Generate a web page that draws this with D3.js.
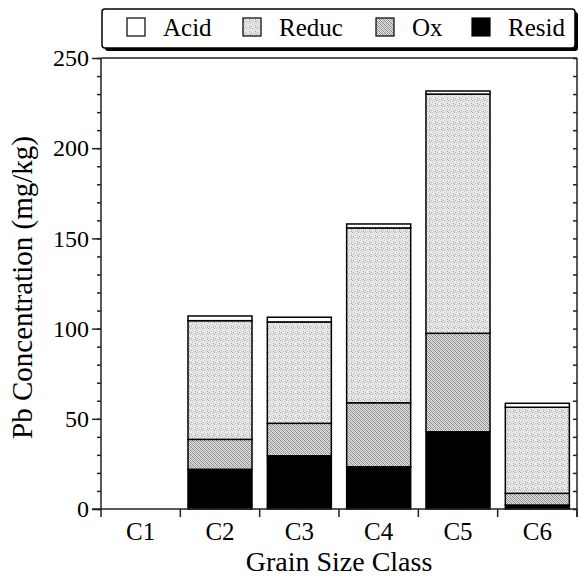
<!DOCTYPE html>
<html><head><meta charset="utf-8">
<script src="https://cdn.jsdelivr.net/npm/d3@7"></script>
<style>body{margin:0;background:#fff}svg{display:block}</style>
</head><body>
<svg id="c" width="582" height="577"></svg>
<script>
const categories = ["C1","C2","C3","C4","C5","C6"];
const seriesNames = ["Resid","Ox","Reduc","Acid"];
const resid = [0, 22.0, 29.5, 23.4, 42.8, 2.2];
const ox    = [0, 16.6, 18.0, 35.5, 54.6, 6.5];
const reduc = [0, 65.8, 56.2, 96.9, 132.6, 47.7];
const acid  = [0, 2.6, 2.6, 2.2, 1.7, 2.2];
const yTicks = [0, 50, 100, 150, 200, 250];
const legendOrder = ["Acid","Reduc","Ox","Resid"];

const svg = d3.select("#c");
const L = 101, R = 577, T = 58, B = 509;
const FONT = '"Liberation Serif"';

// patterns
const defs = svg.append("defs");
const pr = defs.append("pattern").attr("id","pReduc").attr("patternUnits","userSpaceOnUse").attr("width",6).attr("height",6);
pr.append("rect").attr("width",6).attr("height",6).attr("fill","#e9e9e9");
[[0,0],[3,1],[1,3],[4,4],[2,5],[5,2],[0,4],[3,3]].forEach(([a,b],i)=>pr.append("rect").attr("x",a).attr("y",b).attr("width",1).attr("height",1).attr("fill", i%2?"#a0a0a0":"#c4c4c4"));
const po = defs.append("pattern").attr("id","pOx").attr("patternUnits","userSpaceOnUse").attr("width",4).attr("height",4);
po.append("rect").attr("width",4).attr("height",4).attr("fill","#e2e2e2");
[[0,0],[1,1],[2,2],[3,3],[2,0],[3,1],[0,2],[1,3]].forEach(([a,b],i)=>po.append("rect").attr("x",a).attr("y",b).attr("width",1).attr("height",1).attr("fill", i<4?"#858585":"#b0b0b0"));

const fills = {Resid:"#000", Ox:"url(#pOx)", Reduc:"url(#pReduc)", Acid:"#fff"};

const x = d3.scaleBand().domain(categories).range([L,R]).paddingInner(0.193).paddingOuter(0.0965);
const y = d3.scaleLinear().domain([0,250]).range([B,T]);

const rows = categories.map((c,i)=>({cat:c, Resid:resid[i], Ox:ox[i], Reduc:reduc[i], Acid:acid[i]}));
const stack = d3.stack().keys(seriesNames)(rows);

// bars
const g = svg.append("g");
stack.forEach(s=>{
  g.selectAll(null).data(s.filter(d=>d[1]-d[0]>0)).enter().append("rect")
    .attr("x", d=>x(d.data.cat)).attr("width", x.bandwidth())
    .attr("y", d=>y(d[1])).attr("height", d=>y(d[0])-y(d[1]))
    .attr("fill", fills[s.key]).attr("stroke","#000").attr("stroke-width",1.5);
});

// frame top
svg.append("line").attr("x1",L).attr("x2",R).attr("y1",T).attr("y2",T).attr("stroke","#222").attr("stroke-width",1.5);

// left axis
const minor = d3.range(0,251,10);
const ly = svg.append("g").attr("transform",`translate(${L},0)`);
ly.call(d3.axisLeft(y).tickValues(minor).tickSize(4).tickFormat(""));
ly.call(g2=>g2.selectAll(".domain").remove());
const lyM = svg.append("g").attr("transform",`translate(${L},0)`)
  .call(d3.axisLeft(y).tickValues(yTicks).tickSize(9).tickPadding(3).tickFormat(d3.format("d")));
lyM.selectAll("text").style("font-family",FONT).style("font-size","24px").attr("fill","#000");
[ly,lyM].forEach(a=>{a.selectAll("line").attr("stroke","#222").attr("stroke-width",1.5);a.selectAll(".domain").attr("stroke","#222").attr("stroke-width",1.5);});
lyM.select(".domain").attr("d",`M0,${B}V${T}`);

// right axis (inner ticks)
const ry = svg.append("g").attr("transform",`translate(${R},0)`)
  .call(d3.axisLeft(y).tickValues(minor).tickSize(4).tickFormat(""));
ry.selectAll("line").attr("stroke","#222").attr("stroke-width",1.5).attr("x2",-4);
ry.select(".domain").attr("d",`M0,${B+8}V${T}`).attr("stroke","#222").attr("stroke-width",1.5);

// bottom axis
const bounds = categories.map(c=>x(c)-(x.step()-x.bandwidth())/2).concat([R]);
const bx = svg.append("g").attr("transform",`translate(0,${B})`);
bx.append("line").attr("x1",L-9).attr("x2",R).attr("stroke","#222").attr("stroke-width",1.5);
bx.selectAll(".tk").data(bounds).enter().append("line").attr("x1",d=>d).attr("x2",d=>d).attr("y1",0).attr("y2",8).attr("stroke","#222").attr("stroke-width",1.5);
bx.selectAll(".lb").data(categories).enter().append("text").style("font-family",FONT)
  .attr("x",d=>x(d)+x.bandwidth()/2).attr("y",31).attr("text-anchor","middle").style("font-size","25px").text(d=>d);

// axis titles
svg.append("text").style("font-family",FONT).attr("x",339).attr("y",571).attr("text-anchor","middle").style("font-size","28px").text("Grain Size Class");
svg.append("text").style("font-family",FONT).attr("transform",`translate(32,${(T+B)/2+4}) rotate(-90)`).attr("text-anchor","middle").style("font-size","29px").text("Pb Concentration (mg/kg)");

// legend
const lg = svg.append("g");
lg.append("rect").attr("x",105).attr("y",12).attr("width",473).attr("height",39).attr("rx",3).attr("fill","#000");
lg.append("rect").attr("x",102).attr("y",9).attr("width",473).attr("height",39).attr("rx",3).attr("fill","#fff").attr("stroke","#000").attr("stroke-width",1.5);
const lgX = [127, 243, 376, 472];
legendOrder.forEach((k,i)=>{
  lg.append("rect").attr("x",lgX[i]).attr("y",18).attr("width",18).attr("height",18).attr("fill",fills[k]).attr("stroke","#000").attr("stroke-width",1.2);
  lg.append("text").style("font-family",FONT).attr("x",lgX[i]+36).attr("y",36).style("font-size","25px").text(k);
});
</script>
</body></html>
